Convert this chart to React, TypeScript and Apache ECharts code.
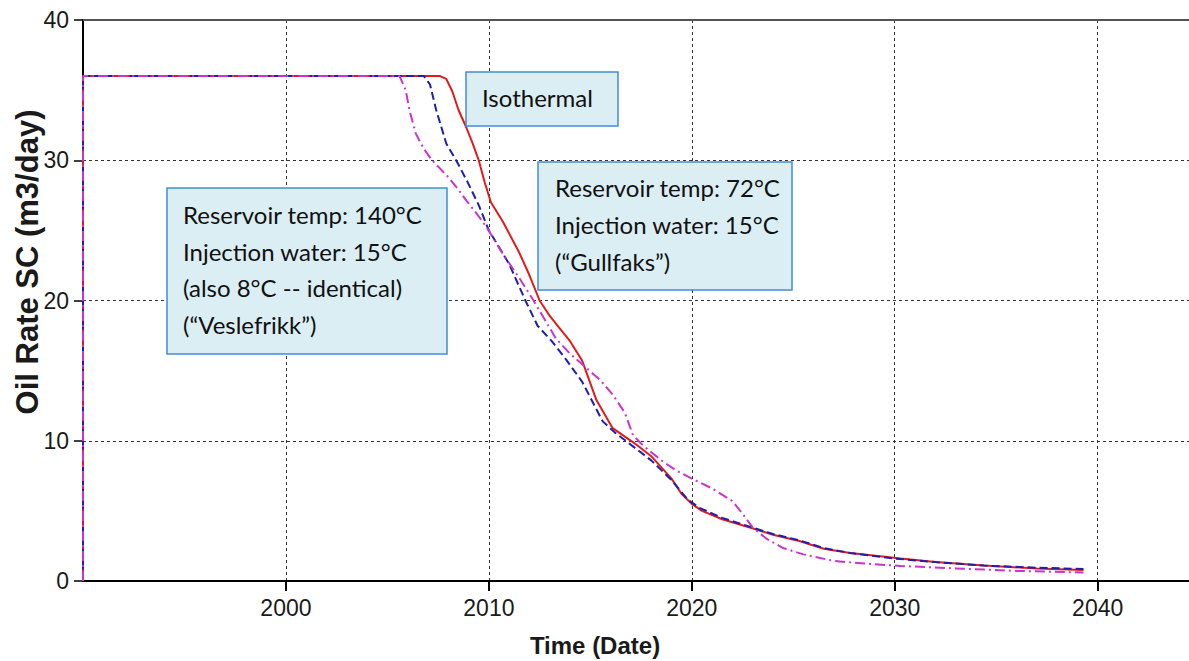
import React, { useEffect, useRef } from "react";
import * as echarts from "echarts";

// Oil rate (m3/day) against time (decimal years) for three temperature cases
const isothermal: [number, number][] = [
  [1990, 0], [1990, 36], [2007.6, 36], [2007.9, 35.8], [2008.2, 34.9], [2008.5, 33.6],
  [2008.9, 32.3], [2009.2, 31.2], [2009.5, 30], [2009.8, 28.4], [2010.1, 27.0],
  [2010.7, 25.6], [2011.5, 23.4], [2012.0, 21.8], [2012.5, 20.0], [2013.0, 18.9],
  [2013.5, 18.0], [2014.0, 17.1], [2014.6, 15.7], [2015.3, 12.9], [2016.1, 10.9],
  [2017.2, 9.8], [2018.0, 8.9], [2019.0, 7.3], [2019.5, 6.2], [2020.0, 5.5],
  [2020.5, 5.0], [2021.5, 4.4], [2022.9, 3.8], [2024.0, 3.3], [2025.3, 2.85],
  [2026.5, 2.3], [2027.8, 2.0], [2030.3, 1.6], [2032.0, 1.35], [2034.4, 1.1],
  [2037.0, 0.9], [2039.3, 0.78],
];

const gullfaks72C: [number, number][] = [
  [1990, 0], [1990, 36], [2006.8, 36], [2007.1, 35.4], [2007.4, 33.6], [2007.9, 31.2],
  [2008.5, 29.7], [2009.0, 28.3], [2009.5, 26.8], [2010.0, 25.0], [2010.5, 23.8],
  [2011.0, 22.6], [2011.8, 20.0], [2012.4, 18.2], [2013.1, 17.1], [2013.8, 15.8],
  [2014.6, 14.2], [2015.1, 12.8], [2015.6, 11.4], [2016.2, 10.6], [2017.1, 9.6],
  [2018.0, 8.6], [2019.0, 7.2], [2019.8, 5.8], [2020.4, 5.2], [2021.5, 4.5],
  [2022.9, 3.85], [2024.0, 3.35], [2025.3, 2.9], [2026.5, 2.35], [2027.8, 2.0],
  [2030.0, 1.6], [2032.0, 1.35], [2034.4, 1.1], [2037.0, 0.95], [2039.3, 0.85],
];

const veslefrikk140C: [number, number][] = [
  [1990, 0], [1990, 36], [2005.6, 36], [2005.9, 35.0], [2006.1, 33.5], [2006.4, 31.9],
  [2006.8, 30.8], [2007.2, 30.0], [2007.6, 29.4], [2008.0, 28.8], [2008.5, 27.9],
  [2008.9, 27.1], [2009.4, 26.2], [2009.9, 25.2], [2010.7, 23.3], [2011.5, 21.6],
  [2012.2, 20.0], [2013.3, 17.3], [2014.0, 16.2], [2014.8, 15.2], [2015.5, 14.3],
  [2016.1, 13.3], [2016.7, 12.0], [2017.1, 10.4], [2017.5, 9.8], [2017.9, 9.3],
  [2018.5, 8.6], [2019.2, 7.9], [2020.0, 7.3], [2021.0, 6.6], [2022.0, 5.7],
  [2022.5, 4.8], [2023.0, 3.8], [2023.7, 3.0], [2024.5, 2.35], [2025.5, 1.9],
  [2027.0, 1.43], [2028.5, 1.25], [2030.3, 1.07], [2033.0, 0.9], [2036.0, 0.72],
  [2039.3, 0.6],
];

const yearTicks = [2000, 2010, 2020, 2030, 2040];
const rateTicks = [0, 10, 20, 30, 40];

const veslefrikkNote = [
  "Reservoir temp: 140°C",
  "Injection water: 15°C",
  "(also 8°C -- identical)",
  "(“Veslefrikk”)",
];
const gullfaksNote = ["Reservoir temp: 72°C", "Injection water: 15°C", "(“Gullfaks”)"];
const isothermalNote = "Isothermal";

const boxFill = "#dbeef4";
const boxStroke = "#3f8fd6";
const noteFont = "Lato, 'Noto Sans', sans-serif";

export default function App() {
  const ref = useRef<HTMLDivElement>(null);

  useEffect(() => {
    if (!ref.current) return;
    const chart = echarts.init(ref.current, null, { renderer: "svg" });

    const axisFont = "'Liberation Sans', Arial, sans-serif";

    chart.setOption({
      animation: false,
      backgroundColor: "#ffffff",
      grid: { left: 83, right: 0, top: 20, bottom: 80 },
      xAxis: {
        type: "value",
        min: 1990,
        max: 2044.5,
        interval: 10,
        axisLine: { show: true, lineStyle: { color: "#000", width: 2 } },
        axisTick: {
          show: true,
          length: 10,
          customValues: yearTicks,
          lineStyle: { color: "#000", width: 2 },
        },
        axisLabel: {
          customValues: yearTicks,
          formatter: (v: number) => String(v),
          margin: 15,
          fontSize: 23,
          color: "#1a1a1a",
          fontFamily: axisFont,
        },
        splitLine: {
          show: true,
          lineStyle: { color: "#333", type: [3, 3], width: 1 },
        },
      },
      yAxis: {
        type: "value",
        min: 0,
        max: 40,
        interval: 10,
        axisLine: { show: true, lineStyle: { color: "#000", width: 2 } },
        axisTick: {
          show: true,
          length: 9,
          customValues: rateTicks,
          lineStyle: { color: "#000", width: 1.5 },
        },
        axisLabel: {
          margin: 14,
          fontSize: 23,
          color: "#1a1a1a",
          fontFamily: axisFont,
        },
        splitLine: {
          show: true,
          lineStyle: { color: "#333", type: [3, 3], width: 1 },
        },
      },
      series: [
        {
          name: "Isothermal",
          type: "line",
          data: isothermal,
          showSymbol: false,
          lineStyle: { color: "#e01b1b", width: 2 },
          z: 2,
        },
        {
          name: "72°C",
          type: "line",
          data: gullfaks72C,
          showSymbol: false,
          lineStyle: { color: "#1e1eb0", width: 2, type: [8, 4] },
          z: 3,
        },
        {
          name: "140°C",
          type: "line",
          data: veslefrikk140C,
          showSymbol: false,
          lineStyle: { color: "#cc33cc", width: 2, type: [10, 4, 2, 4] },
          z: 4,
        },
      ],
      graphic: [
        // top frame line
        {
          type: "line",
          shape: { x1: 83, y1: 20, x2: 1189, y2: 20 },
          style: { stroke: "#555", lineWidth: 2 },
          z: 10,
        },
        // axis titles
        {
          type: "text",
          x: 27,
          y: 262,
          rotation: Math.PI / 2,
          style: {
            text: "Oil Rate SC (m3/day)",
            font: `bold 31px ${axisFont}`,
            fill: "#1a1a1a",
            align: "center",
            verticalAlign: "middle",
          },
        },
        {
          type: "text",
          x: 595,
          y: 645,
          style: {
            text: "Time (Date)",
            font: `bold 24px ${axisFont}`,
            fill: "#1a1a1a",
            align: "center",
            verticalAlign: "middle",
          },
        },
        // annotation boxes
        {
          type: "rect",
          shape: { x: 466, y: 72, width: 152, height: 54 },
          style: { fill: boxFill, stroke: boxStroke, lineWidth: 1.5 },
          z: 20,
        },
        {
          type: "text",
          x: 482,
          y: 97,
          style: {
            text: isothermalNote,
            font: `24px ${noteFont}`,
            fill: "#111",
            verticalAlign: "middle",
          },
          z: 21,
        },
        {
          type: "rect",
          shape: { x: 167, y: 188, width: 280, height: 166 },
          style: { fill: boxFill, stroke: boxStroke, lineWidth: 1.5 },
          z: 20,
        },
        {
          type: "text",
          x: 183,
          y: 196,
          style: {
            text: veslefrikkNote.join("\n"),
            font: `24px ${noteFont}`,
            lineHeight: 36.7,
            fill: "#111",
            verticalAlign: "top",
          },
          z: 21,
        },
        {
          type: "rect",
          shape: { x: 538, y: 162, width: 254, height: 128 },
          style: { fill: boxFill, stroke: boxStroke, lineWidth: 1.5 },
          z: 20,
        },
        {
          type: "text",
          x: 555,
          y: 168.5,
          style: {
            text: gullfaksNote.join("\n"),
            font: `24px ${noteFont}`,
            lineHeight: 37,
            fill: "#111",
            verticalAlign: "top",
          },
          z: 21,
        },
      ],
    });

    return () => chart.dispose();
  }, []);

  return (
    <div
      ref={ref}
      style={{ position: "absolute", left: 0, top: 0, width: 1189, height: 661 }}
    />
  );
}
